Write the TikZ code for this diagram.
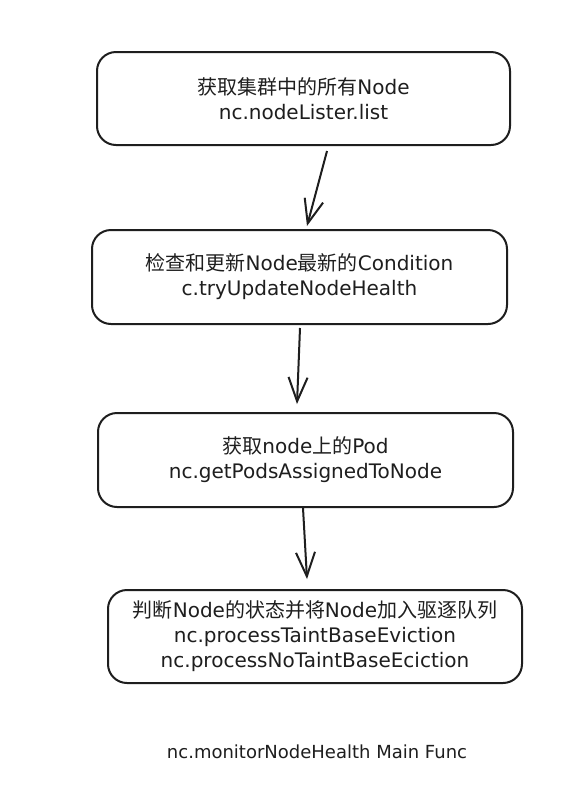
\documentclass[tikz,border=0pt]{standalone}
\usepackage{fontspec}
\setmainfont{DejaVu Sans}
\newfontfamily\cjkfont{Noto Sans CJK SC}
\newcommand{\zhtxt}[1]{{\cjkfont #1}}
\usetikzlibrary{arrows.meta,calc}
\definecolor{ink}{HTML}{1E1E1E}
\tikzset{
  flowbox/.style={draw=ink, line width=2pt, rounded corners=19pt, inner sep=0pt,
    align=center, text=ink, font=\fontsize{20}{25}\selectfont},
  flowarr/.style={draw=ink, line width=2pt, -{Straight Barb[length=24pt,width=19pt,line width=2pt]}},
  titletxt/.style={text=ink, font=\fontsize{18}{22}\selectfont, inner sep=0pt}
}
\begin{document}
\begin{tikzpicture}[x=1pt,y=-1pt]
\fill[white] (0,0) rectangle (577,812);
\useasboundingbox (0,0) rectangle (577,812);

\node[flowbox, minimum width=413pt, minimum height=93pt] (b1) at (303.5,98.5)
  {\zhtxt{获取集群中的所有}Node\\nc.nodeLister.list};
\node[flowbox, minimum width=415pt, minimum height=94pt] (b2) at (299.5,277)
  {\zhtxt{检查和更新}Node\zhtxt{最新的}Condition\\c.tryUpdateNodeHealth};
\node[flowbox, minimum width=415pt, minimum height=94pt] (b3) at (305.5,460)
  {\zhtxt{获取}node\zhtxt{上的}Pod\\nc.getPodsAssignedToNode};
\node[flowbox, minimum width=414pt, minimum height=93pt] (b4) at (315,636.5)
  {\zhtxt{判断}Node\zhtxt{的状态并将}Node\zhtxt{加入驱逐队列}\\nc.processTaintBaseEviction\\nc.processNoTaintBaseEciction};

\node[titletxt] (title) at (317,752) {nc.monitorNodeHealth Main Func};

\draw[flowarr] ([xshift=23.5pt,yshift=-5pt]b1.south) -- ([xshift=7.5pt,yshift=3pt]b2.north);
\draw[flowarr] ([xshift=0.5pt,yshift=-3pt]b2.south) -- ([xshift=-8.5pt,yshift=8pt]b3.north);
\draw[flowarr] ([xshift=-2.5pt,yshift=0pt]b3.south) -- ([xshift=-8pt,yshift=10pt]b4.north);
\end{tikzpicture}
\end{document}
